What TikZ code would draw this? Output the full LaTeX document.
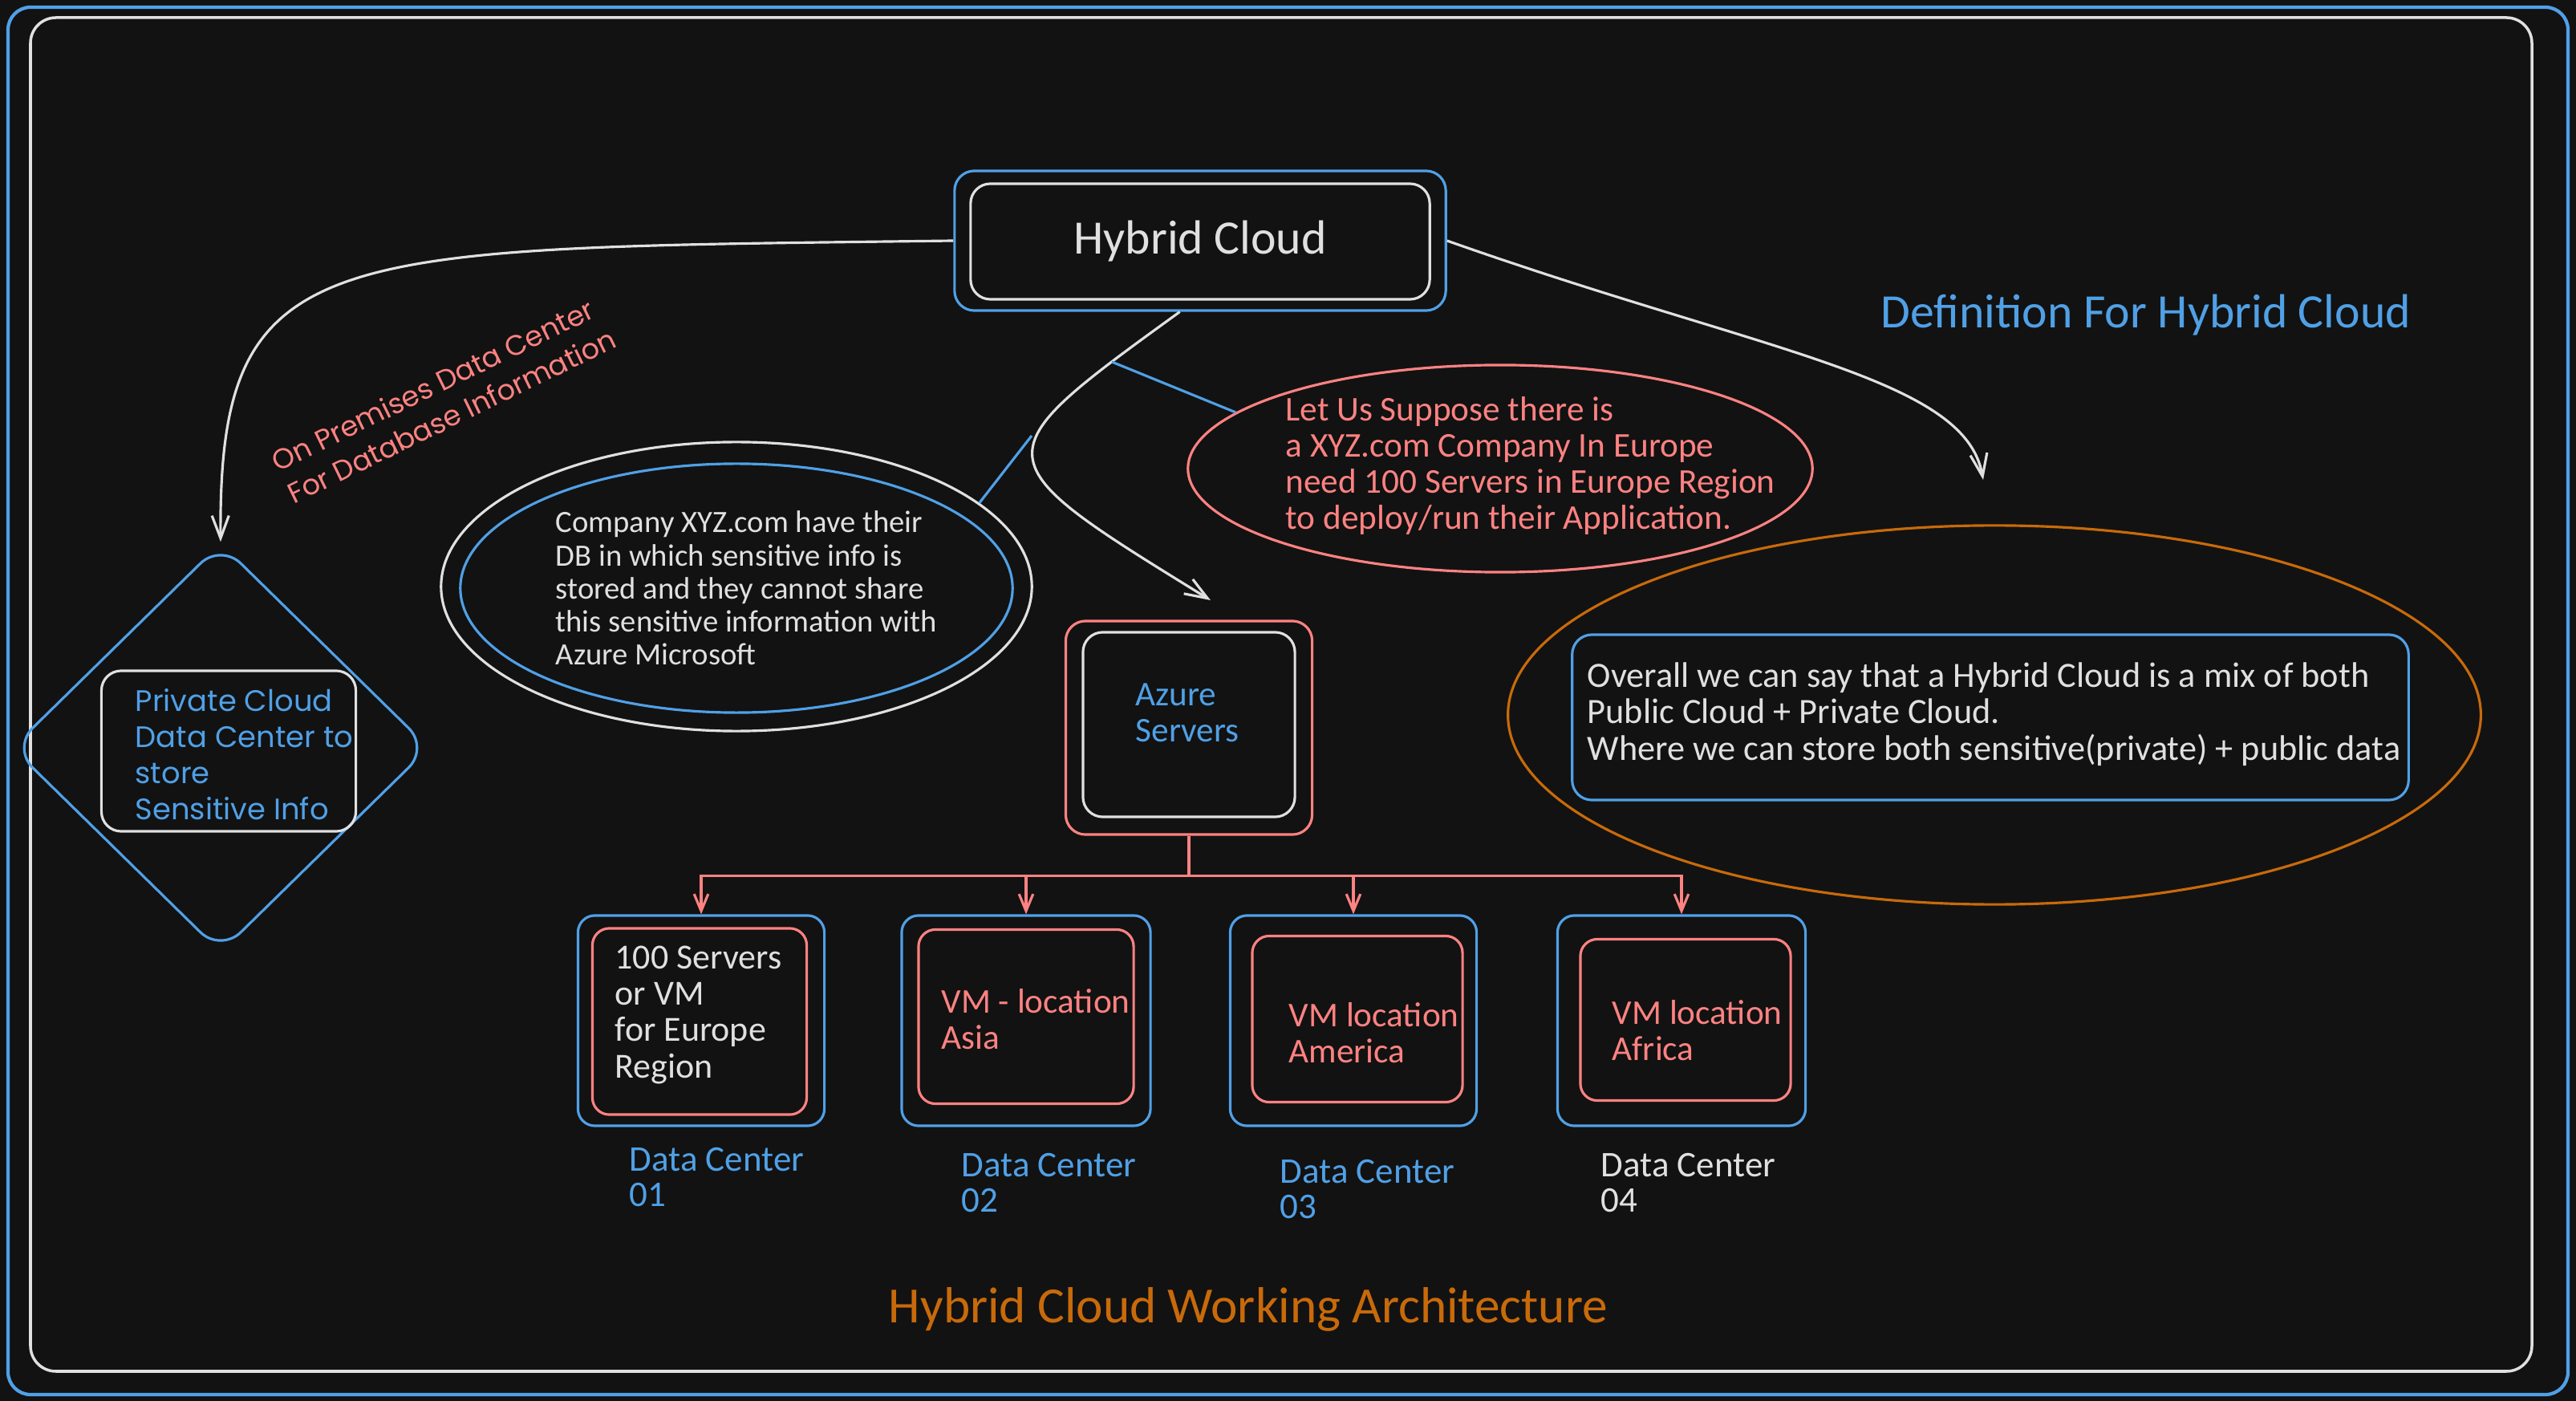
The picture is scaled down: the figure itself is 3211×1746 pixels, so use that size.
\documentclass[tikz,border=0pt]{standalone}
\usepackage{fontspec}
\setmainfont{Carlito}
\newfontfamily\roundfont{Poppins}
\usetikzlibrary{arrows.meta,shapes.geometric}

\definecolor{bgc}{HTML}{121212}
\definecolor{wht}{HTML}{E0E0E0}
\definecolor{blu}{RGB}{80,160,230}
\definecolor{rdd}{RGB}{255,130,130}
\definecolor{org}{RGB}{200,106,10}

\tikzset{
  box/.style={draw, rounded corners=7pt, line width=0.9pt, inner sep=0pt},
  oval/.style={draw, ellipse, line width=0.9pt, inner sep=0pt},
  txt/.style={align=left, inner sep=0pt, anchor=west, font=\fontsize{12.3}{12.8}\selectfont},
  arr/.style={wht, line width=0.9pt, -{Straight Barb[length=8pt,width=6pt]}},
  rarr/.style={rdd, line width=0.9pt, -{Straight Barb[length=6pt,width=5pt]}},
}

\begin{document}
\begin{tikzpicture}[x=0.01cm, y=-0.01cm]
        \fill[bgc] (0,0) rectangle (3211,1746);
        \useasboundingbox (0,0) rectangle (3211,1746);

        % frames
        \draw[blu, line width=1.2pt, rounded corners=8pt] (10,9) rectangle (3201,1738);
        \draw[wht, line width=1pt, rounded corners=9pt] (38,22) rectangle (3156,1709);

        % top
        \node[box, blu, minimum width=6.12cm, minimum height=1.74cm] (hcb) at (1496,300) {};
        \node[box, wht, minimum width=5.72cm, minimum height=1.44cm, font=\fontsize{17}{20}\selectfont] (hc) at (1496,301) {Hybrid Cloud};

        \node[blu, font=\fontsize{17}{20}\selectfont] (dfn) at (2675,393) {Definition For Hybrid Cloud};

        \node[rdd, rotate=26, align=left, inner sep=0pt, font=\roundfont\fontsize{10}{12.8}\selectfont] (opd) at (553,498) {On Premises Data Center\\For Database Information};

        % private cloud
        \node[draw=blu, diamond, minimum width=5.2cm, minimum height=5.1cm, rounded corners=10pt, line width=0.9pt] (pcd) at (275,932) {};
        \node[box, wht, minimum width=3.17cm, minimum height=2.0cm] (pc) at (285,936) {};
        \node[txt, blu, font=\roundfont\fontsize{10.5}{12.8}\selectfont] (pct) at (168,940) {Private Cloud\\Data Center to\\store\\Sensitive Info};

        % company db
        \node[oval, wht, minimum width=7.36cm, minimum height=3.6cm] (cw) at (918,731) {};
        \node[oval, blu, minimum width=6.88cm, minimum height=3.1cm] (cb) at (918,733) {};
        \node[txt, wht, font=\fontsize{11}{11.7}\selectfont] (cbt) at (692,733) {Company XYZ.com have their\\DB in which sensitive info is\\stored and they cannot share\\this sensitive information with\\Azure Microsoft};

        % suppose
        \node[oval, rdd, minimum width=7.78cm, minimum height=2.58cm] (re) at (1870,584) {};
        \node[txt, rdd] (ret) at (1602,580) {Let Us Suppose there is\\a XYZ.com Company In Europe\\need 100 Servers in Europe Region\\to deploy/run their Application.};

        % definition
        \node[oval, org, minimum width=12.12cm, minimum height=4.72cm] (oe) at (2486,891) {};
        \node[box, blu, minimum width=10.42cm, minimum height=2.06cm] (ov) at (2481,894) {};
        \node[txt, wht, font=\fontsize{12.6}{13}\selectfont] (ovt) at (1978,890) {Overall we can say that a Hybrid Cloud is a mix of both\\Public Cloud + Private Cloud.\\Where we can store both sensitive(private) + public data};

        % azure
        \node[box, rdd, minimum width=3.07cm, minimum height=2.66cm] (azo) at (1482,907) {};
        \node[box, wht, minimum width=2.64cm, minimum height=2.30cm] (az) at (1482,903) {};
        \node[txt, blu] (azt) at (1415,888) {Azure\\Servers};

        % data centers
        \node[box, blu, rounded corners=6pt, minimum width=3.07cm, minimum height=2.62cm] (b1) at (874,1272) {};
        \node[box, blu, rounded corners=6pt, minimum width=3.10cm, minimum height=2.62cm] (b2) at (1279,1272) {};
        \node[box, blu, rounded corners=6pt, minimum width=3.07cm, minimum height=2.62cm] (b3) at (1687,1272) {};
        \node[box, blu, rounded corners=6pt, minimum width=3.09cm, minimum height=2.62cm] (b4) at (2096,1272) {};

        \node[box, rdd, rounded corners=6pt, minimum width=2.67cm, minimum height=2.32cm] (r1) at (872,1273) {};
        \node[box, rdd, rounded corners=6pt, minimum width=2.68cm, minimum height=2.17cm] (r2) at (1279,1267) {};
        \node[box, rdd, rounded corners=6pt, minimum width=2.62cm, minimum height=2.07cm] (r3) at (1692,1270) {};
        \node[box, rdd, rounded corners=6pt, minimum width=2.62cm, minimum height=2.01cm] (r4) at (2101,1271) {};

        \node[txt, wht, font=\fontsize{12.5}{12.8}\selectfont] (t1) at (766,1265) {100 Servers\\or VM\\for Europe\\Region};
        \node[txt, rdd] (t2) at (1173,1270) {VM - location\\Asia};
        \node[txt, rdd] (t3) at (1606,1287) {VM location\\America};
        \node[txt, rdd] (t4) at (2009,1284) {VM location\\Africa};

        \node[txt, blu, font=\fontsize{12.8}{12.5}\selectfont] (l1) at (784,1467) {Data Center\\01};
        \node[txt, blu, font=\fontsize{12.8}{12.5}\selectfont] (l2) at (1198,1474) {Data Center\\02};
        \node[txt, blu, font=\fontsize{12.8}{12.5}\selectfont] (l3) at (1595,1482) {Data Center\\03};
        \node[txt, wht, font=\fontsize{12.8}{12.5}\selectfont] (l4) at (1995,1474) {Data Center\\04};

        \node[org, font=\fontsize{18}{20}\selectfont] (ttl) at (1556,1632) {Hybrid Cloud Working Architecture};

        % arrows
        \coordinate (dend) at (2472,598);
        \coordinate (aztop) at (1509,748);
        \coordinate (k1) at (1386,451);
        \coordinate (k2) at (1286,543);

        \draw[arr] (hcb.west) .. controls (400,310) and (272,300) .. (pcd.north);
        \draw[arr] (hcb.east) .. controls (2200,440) and (2450,470) .. (dend);
        \draw[arr] (hcb.254) .. controls (1220,570) .. (aztop);

        \draw[blu, line width=0.9pt] (k1) -- (re.168);
        \draw[blu, line width=0.9pt] (k2) -- (cw.19);

        \draw[rarr] (azo.south) -- ++(0,50) -| (b1.north);
        \draw[rarr] (azo.south) -- ++(0,50) -| (b2.north);
        \draw[rarr] (azo.south) -- ++(0,50) -| (b3.north);
        \draw[rarr] (azo.south) -- ++(0,50) -| (b4.north);

\end{tikzpicture}
\end{document}
